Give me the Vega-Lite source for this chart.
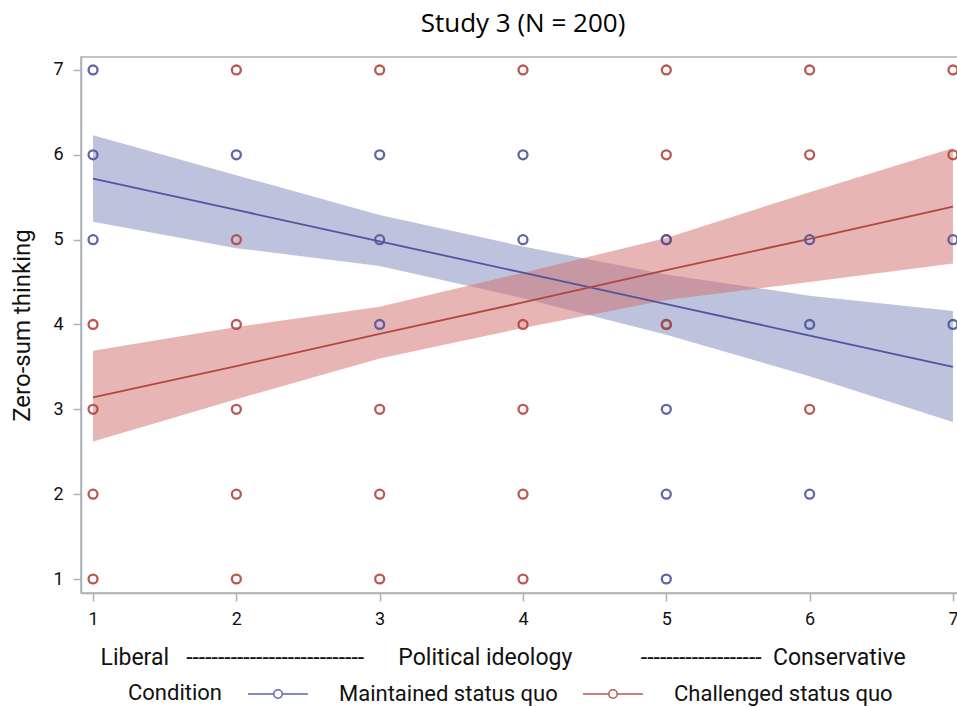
{
  "$schema": "https://vega.github.io/schema/vega-lite/v6.json",
  "width": 884,
  "height": 536,
  "autosize": {"type": "none"},
  "padding": {"left": 81, "top": 57, "right": 0, "bottom": 114},
  "background": "white",
  "title": {"text": "Study 3 (N = 200)", "font": "Open Sans", "fontSize": 26, "fontWeight": "normal", "color": "#000000", "anchor": "middle", "offset": 20},
  "config": {
    "view": {"stroke": "#aab1b8", "strokeWidth": 1.5},
    "axis": {"domainColor": "#aab1b8", "domainWidth": 1.5, "tickColor": "#aab1b8", "tickWidth": 1.5, "tickSize": 8, "labelFont": "Roboto", "labelFontSize": 18, "labelColor": "#111111", "titleFont": "Roboto", "titleFontSize": 23, "titleFontWeight": "normal", "titleColor": "#111111", "grid": false}
  },
  "datasets": {
    "points": [
      {"ideology": 5, "zerosum": 5, "condition": "Challenged status quo"},
      {"ideology": 1, "zerosum": 7, "condition": "Maintained status quo"},
      {"ideology": 1, "zerosum": 6, "condition": "Maintained status quo"},
      {"ideology": 1, "zerosum": 5, "condition": "Maintained status quo"},
      {"ideology": 2, "zerosum": 6, "condition": "Maintained status quo"},
      {"ideology": 3, "zerosum": 6, "condition": "Maintained status quo"},
      {"ideology": 3, "zerosum": 5, "condition": "Maintained status quo"},
      {"ideology": 3, "zerosum": 4, "condition": "Maintained status quo"},
      {"ideology": 4, "zerosum": 6, "condition": "Maintained status quo"},
      {"ideology": 4, "zerosum": 5, "condition": "Maintained status quo"},
      {"ideology": 5, "zerosum": 5, "condition": "Maintained status quo"},
      {"ideology": 5, "zerosum": 4, "condition": "Maintained status quo"},
      {"ideology": 5, "zerosum": 3, "condition": "Maintained status quo"},
      {"ideology": 5, "zerosum": 2, "condition": "Maintained status quo"},
      {"ideology": 5, "zerosum": 1, "condition": "Maintained status quo"},
      {"ideology": 6, "zerosum": 5, "condition": "Maintained status quo"},
      {"ideology": 6, "zerosum": 4, "condition": "Maintained status quo"},
      {"ideology": 6, "zerosum": 2, "condition": "Maintained status quo"},
      {"ideology": 7, "zerosum": 5, "condition": "Maintained status quo"},
      {"ideology": 7, "zerosum": 4, "condition": "Maintained status quo"},
      {"ideology": 1, "zerosum": 4, "condition": "Challenged status quo"},
      {"ideology": 1, "zerosum": 3, "condition": "Challenged status quo"},
      {"ideology": 1, "zerosum": 2, "condition": "Challenged status quo"},
      {"ideology": 1, "zerosum": 1, "condition": "Challenged status quo"},
      {"ideology": 2, "zerosum": 7, "condition": "Challenged status quo"},
      {"ideology": 2, "zerosum": 5, "condition": "Challenged status quo"},
      {"ideology": 2, "zerosum": 4, "condition": "Challenged status quo"},
      {"ideology": 2, "zerosum": 3, "condition": "Challenged status quo"},
      {"ideology": 2, "zerosum": 2, "condition": "Challenged status quo"},
      {"ideology": 2, "zerosum": 1, "condition": "Challenged status quo"},
      {"ideology": 3, "zerosum": 7, "condition": "Challenged status quo"},
      {"ideology": 3, "zerosum": 3, "condition": "Challenged status quo"},
      {"ideology": 3, "zerosum": 2, "condition": "Challenged status quo"},
      {"ideology": 3, "zerosum": 1, "condition": "Challenged status quo"},
      {"ideology": 4, "zerosum": 7, "condition": "Challenged status quo"},
      {"ideology": 4, "zerosum": 4, "condition": "Challenged status quo"},
      {"ideology": 4, "zerosum": 3, "condition": "Challenged status quo"},
      {"ideology": 4, "zerosum": 2, "condition": "Challenged status quo"},
      {"ideology": 4, "zerosum": 1, "condition": "Challenged status quo"},
      {"ideology": 5, "zerosum": 7, "condition": "Challenged status quo"},
      {"ideology": 5, "zerosum": 6, "condition": "Challenged status quo"},
      {"ideology": 5, "zerosum": 4, "condition": "Challenged status quo"},
      {"ideology": 6, "zerosum": 7, "condition": "Challenged status quo"},
      {"ideology": 6, "zerosum": 6, "condition": "Challenged status quo"},
      {"ideology": 6, "zerosum": 3, "condition": "Challenged status quo"},
      {"ideology": 7, "zerosum": 7, "condition": "Challenged status quo"},
      {"ideology": 7, "zerosum": 6, "condition": "Challenged status quo"}
    ],
    "fit": [
      {"ideology": 1, "condition": "Maintained status quo", "fit": 5.72, "lower": 5.21, "upper": 6.23},
      {"ideology": 2, "condition": "Maintained status quo", "fit": 5.35, "lower": 4.90, "upper": 5.76},
      {"ideology": 3, "condition": "Maintained status quo", "fit": 4.98, "lower": 4.69, "upper": 5.29},
      {"ideology": 4, "condition": "Maintained status quo", "fit": 4.61, "lower": 4.31, "upper": 4.92},
      {"ideology": 5, "condition": "Maintained status quo", "fit": 4.24, "lower": 3.88, "upper": 4.59},
      {"ideology": 6, "condition": "Maintained status quo", "fit": 3.87, "lower": 3.39, "upper": 4.34},
      {"ideology": 7, "condition": "Maintained status quo", "fit": 3.50, "lower": 2.85, "upper": 4.16},
      {"ideology": 1, "condition": "Challenged status quo", "fit": 3.14, "lower": 2.62, "upper": 3.69},
      {"ideology": 2, "condition": "Challenged status quo", "fit": 3.51, "lower": 3.12, "upper": 3.97},
      {"ideology": 3, "condition": "Challenged status quo", "fit": 3.89, "lower": 3.60, "upper": 4.21},
      {"ideology": 4, "condition": "Challenged status quo", "fit": 4.26, "lower": 3.96, "upper": 4.61},
      {"ideology": 5, "condition": "Challenged status quo", "fit": 4.64, "lower": 4.29, "upper": 5.02},
      {"ideology": 6, "condition": "Challenged status quo", "fit": 5.01, "lower": 4.50, "upper": 5.56},
      {"ideology": 7, "condition": "Challenged status quo", "fit": 5.39, "lower": 4.72, "upper": 6.08}
    ]
  },
  "encoding": {
    "x": {
      "field": "ideology", "type": "quantitative",
      "scale": {"domain": [0.916, 7.084], "nice": false, "zero": false},
      "axis": {
        "values": [1, 2, 3, 4, 5, 6, 7], "format": "d", "labelPadding": 9,
        "title": "Liberal\u00a0\u00a0\u00a0----------------------------\u00a0\u00a0\u00a0\u00a0\u00a0\u00a0Political ideology\u00a0\u00a0\u00a0\u00a0\u00a0\u00a0\u00a0\u00a0\u00a0\u00a0\u00a0\u00a0-------------------\u00a0\u00a0Conservative",
        "titleAnchor": "start", "titleAlign": "left", "titleX": 19, "titlePadding": 18
      }
    }
  },
  "layer": [
    {
      "data": {"name": "fit"},
      "transform": [{"filter": "datum.condition === 'Maintained status quo'"}],
      "mark": {"type": "area", "color": "#7d87bb", "opacity": 0.5},
      "encoding": {
        "y": {"field": "lower", "type": "quantitative", "scale": {"domain": [0.835, 7.153], "nice": false, "zero": false}, "axis": {"values": [1, 2, 3, 4, 5, 6, 7], "format": "d", "labelPadding": 10, "title": "Zero-sum thinking", "titleFontSize": 24, "titlePadding": 18}},
        "y2": {"field": "upper"}
      }
    },
    {
      "data": {"name": "fit"},
      "transform": [{"filter": "datum.condition === 'Challenged status quo'"}],
      "mark": {"type": "area", "color": "#d16b6b", "opacity": 0.5},
      "encoding": {
        "y": {"field": "lower", "type": "quantitative"},
        "y2": {"field": "upper"}
      }
    },
    {
      "data": {"name": "fit"},
      "mark": {"type": "line", "strokeWidth": 1.8},
      "encoding": {
        "y": {"field": "fit", "type": "quantitative"},
        "color": {"field": "condition", "type": "nominal", "scale": {"domain": ["Maintained status quo", "Challenged status quo"], "range": ["#4f559f", "#b3463f"]}}
      }
    },
    {
      "data": {"name": "points"},
      "mark": {"type": "point", "filled": false, "size": 80, "strokeWidth": 2.3, "opacity": 0.9},
      "encoding": {
        "y": {"field": "zerosum", "type": "quantitative"},
        "color": {
          "field": "condition", "type": "nominal",
          "scale": {"domain": ["Maintained status quo", "Challenged status quo"], "range": ["#4f559f", "#b3463f"]},
          "legend": {
            "title": "Condition", "orient": "none", "legendX": 47, "legendY": 606, "direction": "horizontal",
            "titleOrient": "left", "titleAnchor": "end", "titleBaseline": "bottom", "titleFont": "Roboto", "titleFontSize": 22, "titleFontWeight": "normal", "titleColor": "#111111", "titlePadding": 24,
            "labelFont": "Roboto", "labelFontSize": 22, "labelColor": "#111111", "labelOffset": 30, "labelLimit": 400, "columnPadding": 22,
            "symbolType": "M-1,0H-0.14M0.14,0H1M0.14,0A0.14,0.14,0,1,1,-0.14,0A0.14,0.14,0,1,1,0.14,0",
            "symbolSize": 3600, "symbolStrokeWidth": 1.5, "symbolFillColor": "transparent", "symbolOpacity": 0.9
          }
        }
      }
    }
  ]
}
